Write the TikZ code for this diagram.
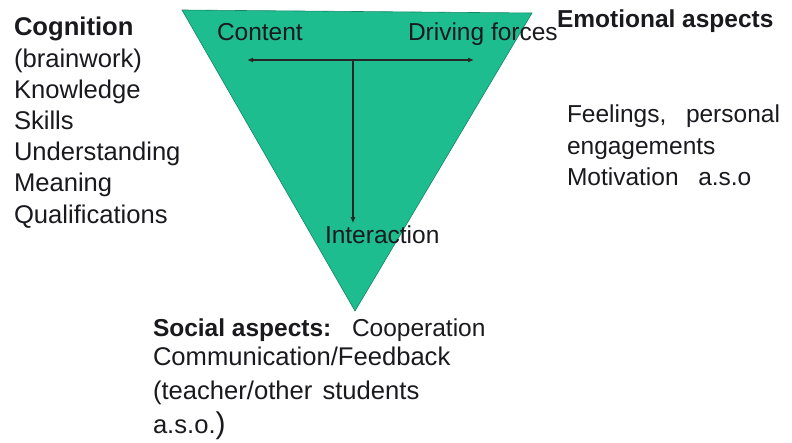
\documentclass[tikz,border=0pt]{standalone}
\usepackage{fontspec}
\setmainfont{Liberation Sans}
\usepackage{tikz}
\usetikzlibrary{arrows.meta}
\definecolor{trigreen}{RGB}{30, 189, 143}
\definecolor{inktext}{RGB}{25, 25, 30}

\tikzset{
    lbl/.style={anchor=base west, inner sep=0pt, outer sep=0pt, text=inktext, font=\fontsize{24.5}{31}\selectfont},
    biglbl/.style={lbl, font=\fontsize{25.6}{31}\selectfont},
    flow/.style={line width=1.5pt, color=black!85, -{Latex[length=6pt, width=5pt]}},
}

\begin{document}
\begin{tikzpicture}[x=1pt, y=-1pt]
    \useasboundingbox (0,0) rectangle (792,443);

    % the inverted triangle
    \draw[fill=trigreen, draw=trigreen!70!black, line width=0.6pt] (182,10) -- (532,13) -- (355,311) -- cycle;

    % labels inside the triangle
    \node[lbl] (content) at (217,41) {Content};
    \node[lbl] (driving) at (408,41) {Driving forces};
    \node[lbl] (interaction) at (325,244) {Interaction};

    % the T of arrows
    \coordinate (hub) at (353,60);
    \coordinate (leftend) at (247,60);
    \coordinate (rightend) at (474,60);
    \draw[flow] (hub) -- (leftend);
    \draw[flow] (hub) -- (rightend);
    \draw[flow, shorten >=3pt] (hub) -- (hub |- interaction.north);

    % cognition column
    \node[biglbl] (cognition) at (14,36) {\bfseries Cognition};
    \foreach \item [count=\i] in {(brainwork), Knowledge, Skills, Understanding, Meaning, Qualifications}
        \node[biglbl] (cog\i) at (14, 36+31.2*\i) {\item};

    % emotional aspects
    \node[lbl] (emotional) at (557,28) {\bfseries Emotional aspects};
    \node[lbl] (feelings) at (567,123) {Feelings,\hspace{0.8em}personal};
    \node[lbl] (engage) at (567,155) {engagements};
    \node[lbl] (motivation) at (567,186) {Motivation\hspace{0.8em}a.s.o};

    % social aspects
    \node[lbl] (social) at (153,337) {\bfseries Social aspects:};
    \node[lbl] (coop) at (352,337) {Cooperation};
    \node[biglbl] (comm) at (153,366) {Communication/Feedback};
    \node[biglbl] (teacher) at (153,399) {(teacher/other\hspace{0.4em}students};
    \node[biglbl] (aso) at (153,433) {a.s.o.{\fontsize{30}{30}\selectfont)}};
\end{tikzpicture}
\end{document}
